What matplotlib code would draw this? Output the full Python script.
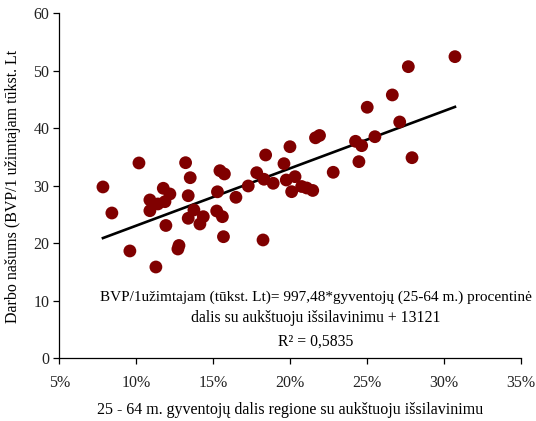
import numpy as np
import matplotlib
matplotlib.use("Agg")
import matplotlib.pyplot as plt
from matplotlib import ticker

# share of 25-64 y.o. population with higher education, % (per region)
edu_share = [
    7.84, 8.42, 9.59, 10.18, 10.89, 10.89, 11.28, 11.41, 11.76, 11.87,
    11.93, 12.19, 12.71, 12.78, 13.21, 13.51, 13.38, 13.75, 13.38, 14.36,
    14.14, 15.23, 15.60, 15.67, 15.28, 15.44, 15.73, 16.48, 17.28, 17.83,
    18.30, 18.41, 18.24, 18.90, 19.60, 19.75, 19.99, 20.32, 20.10, 20.75,
    21.08, 21.47, 21.65, 21.91, 22.80, 24.25, 24.65, 24.47, 25.51, 25.01,
    26.64, 27.12, 27.68, 27.92, 30.71,
]
# GDP per employed person, thousand Lt
gdp_per_worker = [
    29.83, 25.30, 18.70, 34.00, 27.57, 25.70, 15.91, 26.87, 29.60, 27.27,
    23.13, 28.61, 19.04, 19.65, 34.05, 31.44, 28.31, 25.83, 24.38, 24.66,
    23.39, 25.65, 24.66, 21.18, 28.99, 32.66, 32.09, 28.03, 30.00, 32.31,
    31.17, 35.39, 20.61, 30.47, 33.88, 31.04, 36.83, 31.62, 29.01, 29.91,
    29.65, 29.22, 38.38, 38.78, 32.38, 37.77, 37.01, 34.23, 38.57, 43.69,
    45.83, 41.13, 50.75, 34.92, 52.49,
]

# fitted trend (Lt): 997.48 * share + 13121
slope = 997.48
intercept = 13121
r_squared = "0,5835"

x_ticks = [5, 10, 15, 20, 25, 30, 35]
y_ticks = [0, 10, 20, 30, 40, 50, 60]

plt.rcParams["font.family"] = ["Liberation Serif", "DejaVu Serif"]
plt.rcParams["font.size"] = 11.5

fig = plt.figure(figsize=(5.36, 4.21), dpi=100)
ax = fig.add_axes([0.1105, 0.1485, 0.8615, 0.8195])

ax.scatter(edu_share, gdp_per_worker, s=85, color="#800000",
           edgecolors="none", zorder=3)

xs = np.array([min(edu_share), max(edu_share)])
ax.plot(xs, (slope * xs + intercept) / 1000, color="black", lw=1.9, zorder=2)

ax.set_xlim(5, 35)
ax.set_ylim(0, 60)
ax.set_xticks(x_ticks)
ax.set_yticks(y_ticks)
ax.xaxis.set_major_formatter(ticker.PercentFormatter(xmax=100, decimals=0))

for side in ("top", "right"):
    ax.spines[side].set_visible(False)
for side in ("left", "bottom"):
    ax.spines[side].set_linewidth(0.9)
ax.tick_params(direction="out", length=4, width=0.9, labelsize=11.5,
               labelcolor="#222222")
ax.tick_params(axis="x", pad=8)
ax.tick_params(axis="y", pad=3)

ax.set_xlabel("25 - 64 m. gyventojų dalis regione su aukštuoju išsilavinimu",
              fontsize=11.5, labelpad=8)
ax.set_ylabel("Darbo našums (BVP/1 užimtajam tūkst. Lt", fontsize=11.5,
              labelpad=9)

eq_x = 21.65
ax.text(eq_x, 10.7,
        "BVP/1užimtajam (tūkst. Lt)= 997,48*gyventojų (25-64 m.) procentinė",
        ha="center", va="center", fontsize=11.0)
ax.text(eq_x, 7.0, "dalis su aukštuoju išsilavinimu + 13121",
        ha="center", va="center", fontsize=11.3)
ax.text(eq_x, 3.0, "R² = " + r_squared, ha="center", va="center",
        fontsize=11.3)

fig.savefig("out.png", dpi=100)
